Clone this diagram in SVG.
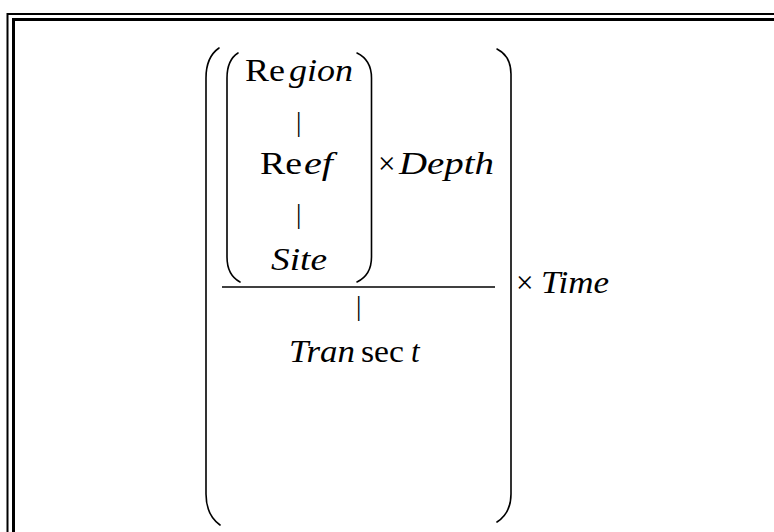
<svg xmlns="http://www.w3.org/2000/svg" width="774" height="532" viewBox="0 0 774 532" font-family="'Liberation Serif', serif">
<style>
text{font-size:31px;fill:#000}
.i{font-style:italic}
.bar{font-size:27px}
.p{fill:none;stroke:#000;stroke-width:1.6;stroke-linecap:round}
</style>
<rect x="0" y="0" width="774" height="532" fill="#fff"/>
<g id="frame" fill="none" stroke="#000">
<path d="M7.5 532 V14 H774" stroke-width="2"/>
<path d="M13.5 532 V19.5 H774" stroke-width="3"/>
</g>
<g id="outer-parens">
<path class="p" d="M219 48 Q206 57 206 78 L206 494 Q206 515 220 525"/>
<path class="p" d="M497 49 Q511 56 511 74 L511 494 Q511 513 497 522"/>
</g>
<g id="inner-parens">
<path class="p" d="M238 53 Q227 60 227 78 L227 257 Q227 275 240 282"/>
<path class="p" d="M357 53 Q371.5 60 371.5 78 L371.5 257 Q371.5 275 357 282"/>
</g>
<g id="region">
<text x="245" y="81" textLength="40" lengthAdjust="spacingAndGlyphs">Re</text>
<text class="i" x="289" y="81" textLength="64" lengthAdjust="spacingAndGlyphs">gion</text>
</g>
<g id="reef">
<text x="260" y="174" textLength="42" lengthAdjust="spacingAndGlyphs">Re</text>
<text class="i" x="304" y="174" textLength="29" lengthAdjust="spacingAndGlyphs">ef</text>
</g>
<g id="site">
<text class="i" x="271" y="270" textLength="56" lengthAdjust="spacingAndGlyphs">Site</text>
</g>
<g id="depth">
<text x="378" y="174">×</text>
<text class="i" x="399" y="174" textLength="95" lengthAdjust="spacingAndGlyphs">Depth</text>
</g>
<g id="transect">
<text class="i" x="289" y="362" textLength="66" lengthAdjust="spacingAndGlyphs">Tran</text>
<text x="361" y="362" textLength="43" lengthAdjust="spacingAndGlyphs">sec</text>
<text class="i" x="411" y="362">t</text>
</g>
<g id="time">
<text x="516" y="293">×</text>
<text class="i" x="541" y="293" textLength="68" lengthAdjust="spacingAndGlyphs">Time</text>
</g>
<g id="connectors">
<line x1="222" y1="287" x2="495" y2="287" stroke="#000" stroke-width="1.6"/>
<text class="bar" x="296" y="131">|</text>
<text class="bar" x="296" y="223">|</text>
<text class="bar" x="356" y="315">|</text>
</g>
</svg>
